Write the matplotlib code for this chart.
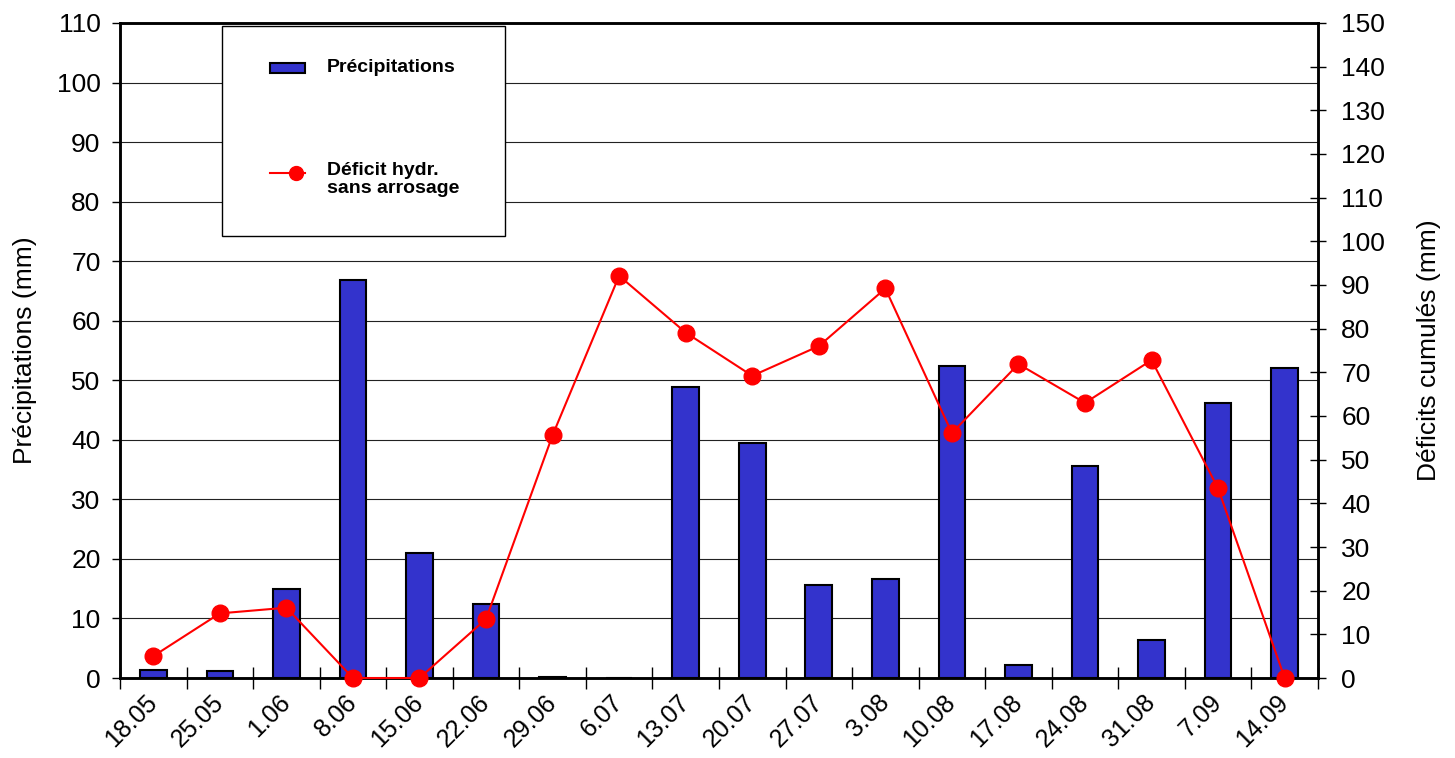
import matplotlib
matplotlib.use("Agg")
import matplotlib.pyplot as plt
import numpy as np
from matplotlib.patches import Rectangle
from matplotlib.lines import Line2D

plt.rcParams['font.family'] = ['Liberation Sans', 'DejaVu Sans']

# Weekly dates
dates = ["18.05", "25.05", "1.06", "8.06", "15.06", "22.06", "29.06", "6.07",
         "13.07", "20.07", "27.07", "3.08", "10.08", "17.08", "24.08", "31.08",
         "7.09", "14.09"]

# Weekly precipitation (mm)
precip = [1.3, 1.2, 14.9, 66.8, 21.0, 12.4, 0.2, 0.0, 48.9, 39.5, 15.6, 16.6,
          52.4, 2.2, 35.6, 6.4, 46.2, 52.0]

# Cumulated water deficit without irrigation (mm)
deficit = [5.0, 14.8, 16.1, 0.0, 0.0, 13.5, 55.6, 92.1, 79.1, 69.2, 76.0, 89.2,
           56.1, 71.9, 63.0, 72.8, 43.4, 0.0]

left_ticks = list(range(0, 111, 10))
right_ticks = list(range(0, 151, 10))

BAR_COLOR = "#3333CC"
LINE_COLOR = "#FF0000"
FS = 19

fig = plt.figure(figsize=(14.55, 7.58), dpi=100)
ax = fig.add_axes([0.08247, 0.10554, 0.82333, 0.86412])
ax2 = ax.twinx()

x = np.arange(len(dates))

# Precipitation bars on the left axis
ax.bar(x, precip, width=0.4, color=BAR_COLOR, edgecolor="black",
       linewidth=1.5, zorder=3)
ax.set_ylim(0, 110)
ax.set_xlim(-0.5, len(dates) - 0.5)
ax.set_yticks(left_ticks)
ax.yaxis.grid(True, color="#222222", linewidth=0.8, zorder=0)
ax.set_axisbelow(True)

# Ticks on week boundaries, labels at week centres
ax.set_xticks(np.arange(len(dates) + 1) - 0.5)
ax.set_xticklabels([])
ax.set_xticks(x, minor=True)
ax.set_xticklabels(dates, minor=True, rotation=45, ha="right",
                   rotation_mode="anchor", va="center", fontsize=18)
ax.tick_params(axis="x", which="major", direction="inout", length=16,
               width=1.0, color="black")
ax.tick_params(axis="x", which="minor", length=0, pad=15)
ax.tick_params(axis="y", direction="out", length=6, width=1.0,
               labelsize=FS, pad=8)

for side in ["left", "right", "bottom", "top"]:
    ax.spines[side].set_linewidth(1.8)
    ax2.spines[side].set_linewidth(1.8)

ax.set_ylabel("Précipitations (mm)", fontsize=FS)
ax.yaxis.set_label_coords(-0.069, 0.5)

# Cumulated deficit line on the right axis
ax2.plot(x, deficit, color=LINE_COLOR, linewidth=1.5, marker="o",
         markersize=12, markerfacecolor=LINE_COLOR,
         markeredgecolor=LINE_COLOR, zorder=5, clip_on=False)
ax2.set_ylim(0, 150)
ax2.set_yticks(right_ticks)
ax2.tick_params(axis="y", direction="inout", length=11.5, width=1.0,
                labelsize=FS, pad=11)
ax2.set_ylabel("Déficits cumulés (mm)", fontsize=FS, labelpad=23)

# Legend box
ax2.add_patch(Rectangle((0.0851, 0.6748), 0.2363, 0.3206, transform=ax.transAxes,
                        facecolor="white", edgecolor="black", linewidth=1.0,
                        zorder=10, clip_on=False))
ax2.add_patch(Rectangle((0.1252, 0.9237), 0.0292, 0.0152, transform=ax.transAxes,
                        facecolor=BAR_COLOR, edgecolor="black", linewidth=1.5,
                        zorder=11, clip_on=False))
ax2.text(0.1728, 0.9313, "Précipitations", transform=ax.transAxes,
         fontsize=14, fontweight="bold", va="center", ha="left", zorder=11)
ax2.add_line(Line2D([0.1252, 0.1544], [0.771, 0.771], transform=ax.transAxes,
                    color=LINE_COLOR, linewidth=1.5, zorder=11))
ax2.add_line(Line2D([0.1469], [0.771], transform=ax.transAxes, marker="o",
                    markersize=10, color=LINE_COLOR, zorder=12))
ax2.text(0.1728, 0.7885, "Déficit hydr.\nsans arrosage", transform=ax.transAxes,
         fontsize=14, fontweight="bold", va="top", ha="left",
         linespacing=1.15, zorder=11)

fig.savefig("out.png", dpi=100)
